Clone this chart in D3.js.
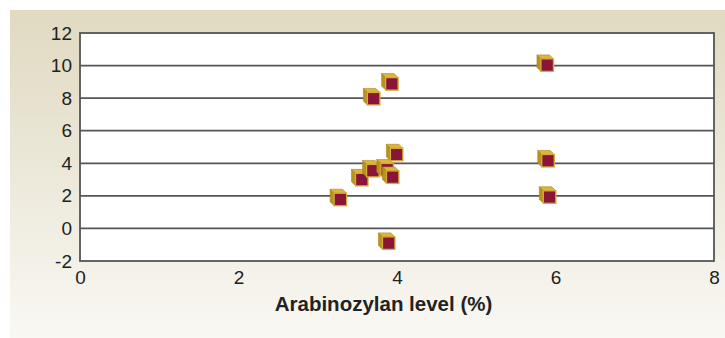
<!DOCTYPE html>
<html><head><meta charset="utf-8">
<script src="https://cdn.jsdelivr.net/npm/d3@7"></script>
<style>html,body{margin:0;padding:0;background:#fff;}svg{display:block;}</style>
</head><body>
<script>
const xValues = [3.26, 3.53, 3.67, 3.85, 3.97, 3.92, 3.68, 3.91, 3.87, 5.87, 5.88, 5.90];
const yValues = [1.90, 3.12, 3.67, 3.73, 4.66, 3.27, 8.09, 9.00, -0.78, 10.15, 4.28, 2.05];
const xTicks = [0, 2, 4, 6, 8];
const yTicks = [-2, 0, 2, 4, 6, 8, 10, 12];
const xTitle = "Arabinozylan level (%)";

const W = 725, H = 338;
const svg = d3.select("body").append("svg").attr("width", W).attr("height", H);
const defs = svg.append("defs");
const g = defs.append("linearGradient").attr("id", "bg").attr("x1", 0).attr("y1", 0).attr("x2", 0).attr("y2", 1);
g.append("stop").attr("offset", "0%").attr("stop-color", "#e0dac1");
g.append("stop").attr("offset", "50%").attr("stop-color", "#ece8da");
g.append("stop").attr("offset", "100%").attr("stop-color", "#f9f8f3");
svg.append("rect").attr("x", 10).attr("y", 10).attr("width", W - 10).attr("height", H - 10).attr("fill", "url(#bg)");

const x = d3.scaleLinear().domain([0, 8]).range([80, 714]);
const y = d3.scaleLinear().domain([-2, 12]).range([261, 33]);

svg.append("rect").attr("x", x(0)).attr("y", y(12)).attr("width", x(8) - x(0)).attr("height", y(-2) - y(12)).attr("fill", "#fff");

// gridlines
svg.append("g").selectAll("line").data(yTicks.filter(d => d > -2 && d < 12)).join("line")
  .attr("x1", x(0)).attr("x2", x(8)).attr("y1", d => y(d)).attr("y2", d => y(d))
  .attr("stroke", "#555").attr("stroke-width", 1.8);

svg.append("rect").attr("x", x(0)).attr("y", y(12)).attr("width", x(8) - x(0)).attr("height", y(-2) - y(12))
  .attr("fill", "none").attr("stroke", "#555").attr("stroke-width", 1.8);

const yAxis = svg.append("g").attr("transform", `translate(${x(0) - 8},0)`)
  .call(d3.axisLeft(y).tickValues(yTicks).tickSize(0).tickPadding(0).tickFormat(d => d < 0 ? "-" + Math.abs(d) : d));
yAxis.select(".domain").remove();
yAxis.selectAll("text").attr("font-family", "Liberation Sans, Arial, sans-serif").attr("font-size", 19).attr("fill", "#222");

const xAxis = svg.append("g").attr("transform", `translate(0,${y(-2)})`)
  .call(d3.axisBottom(x).tickValues(xTicks).tickSize(0).tickPadding(10));
xAxis.select(".domain").remove();
xAxis.selectAll("text").attr("font-family", "Liberation Sans, Arial, sans-serif").attr("font-size", 19).attr("fill", "#222");

svg.append("text").attr("x", 383.5).attr("y", 311).attr("text-anchor", "middle")
  .attr("font-family", "Liberation Sans, Arial, sans-serif").attr("font-weight", "bold").attr("font-size", 20.5)
  .attr("fill", "#222").text(xTitle);

// markers: extruded cubes
const s = 12.5, d = 4;
const pts = xValues.map((v, i) => ({ x: x(v), y: y(yValues[i]) }));
const mk = svg.append("g").selectAll("g").data(pts).join("g")
  .attr("transform", p => `translate(${p.x - (s - d) / 2},${p.y - (s - d) / 2})`);
mk.append("polygon").attr("points", `${-d},${-d} ${s - d},${-d} ${s},0 0,0`)
  .attr("fill", "#dbb63c").attr("stroke", "#a8861c").attr("stroke-width", 0.6);
mk.append("polygon").attr("points", `${-d},${-d} 0,0 0,${s} ${-d},${s - d}`)
  .attr("fill", "#b9911f").attr("stroke", "#a8861c").attr("stroke-width", 0.6);
mk.append("rect").attr("x", 0).attr("y", 0).attr("width", s).attr("height", s)
  .attr("fill", "#8a1538").attr("stroke", "#d4ad35").attr("stroke-width", 1.3);
</script>
</body></html>
